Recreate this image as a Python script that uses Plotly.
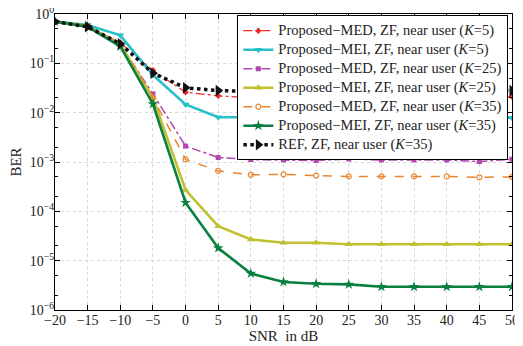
import plotly.graph_objects as go

snr = [-20, -15, -10, -5, 0, 5, 10, 15, 20, 25, 30, 35, 40, 45, 50]

med_k5 = [0.70, 0.58, 0.26, 0.072, 0.026, 0.022, 0.020, 0.020, 0.020, 0.020, 0.020, 0.020, 0.020, 0.020, 0.021]
mei_k5 = [0.70, 0.60, 0.37, 0.058, 0.0147, 0.0081, 0.0081, 0.0080, 0.0080, 0.0080, 0.0080, 0.0080, 0.0080, 0.0080, 0.0079]
med_k25 = [0.70, 0.57, 0.24, 0.024, 2.1e-3, 1.23e-3, 1.12e-3, 1.1e-3, 1.07e-3, 1.15e-3, 1.1e-3, 1.1e-3, 1.1e-3, 1.02e-3, 1.14e-3]
mei_k25 = [0.70, 0.57, 0.24, 0.020, 2.7e-4, 5.0e-5, 2.7e-5, 2.3e-5, 2.3e-5, 2.15e-5, 2.15e-5, 2.15e-5, 2.15e-5, 2.15e-5, 2.15e-5]
med_k35 = [0.70, 0.57, 0.24, 0.020, 1.13e-3, 6.6e-4, 5.5e-4, 5.6e-4, 5.3e-4, 5.1e-4, 5.1e-4, 5.1e-4, 5.1e-4, 4.9e-4, 5.0e-4]
mei_k35 = [0.70, 0.55, 0.22, 0.015, 1.5e-4, 1.8e-5, 5.5e-6, 3.7e-6, 3.4e-6, 3.3e-6, 2.95e-6, 2.95e-6, 2.95e-6, 2.95e-6, 2.95e-6]
ref_k35 = [0.70, 0.55, 0.25, 0.063, 0.032, 0.028, 0.027, 0.027, 0.027, 0.027, 0.027, 0.027, 0.027, 0.027, 0.028]

names = [
    "Proposed\u2212MED, ZF, near user (<i>K</i>=5)",
    "Proposed\u2212MEI, ZF, near user (<i>K</i>=5)",
    "Proposed\u2212MED, ZF, near user (<i>K</i>=25)",
    "Proposed\u2212MEI, ZF, near user (<i>K</i>=25)",
    "Proposed\u2212MED, ZF, near user (<i>K</i>=35)",
    "Proposed\u2212MEI, ZF, near user (<i>K</i>=35)",
    "REF, ZF, near user (<i>K</i>=35)",
]

yt_vals = [1, 0.1, 0.01, 1e-3, 1e-4, 1e-5, 1e-6]
yt_text = ["10<sup>0</sup>", "10<sup>\u22121</sup>", "10<sup>\u22122</sup>", "10<sup>\u22123</sup>",
           "10<sup>\u22124</sup>", "10<sup>\u22125</sup>", "10<sup>\u22126</sup>"]
xt_vals = [-20, -15, -10, -5, 0, 5, 10, 15, 20, 25, 30, 35, 40, 45, 50]
xt_text = ["\u221220", "\u221215", "\u221210", "\u22125", "0", "5", "10", "15", "20", "25", "30", "35", "40", "45", "50"]

styles = [
    (med_k5, "#f02828", 1.2, "dashdot", "diamond", 5),
    (mei_k5, "#28c0c8", 2.6, "solid", "triangle-down", 7),
    (med_k25, "#b048b0", 1.5, "dashdot", "square", 5),
    (mei_k25, "#c0c030", 2.6, "solid", "triangle-up", 7),
    (med_k35, "#e88530", 1.5, "dash", "circle-open", 5),
    (mei_k35, "#0a8040", 2.6, "solid", "star", 8),
    (ref_k35, "#111111", 3.5, "dot", "triangle-right", 10),
]

fig = go.Figure()
for (vals, color, w, dash, sym, size), nm in zip(styles, names):
    fig.add_trace(go.Scatter(
        x=snr, y=vals, name='<span style="font-size:14.5px">' + nm + '</span>',
        mode="lines+markers",
        line=dict(color=color, width=w, dash=dash),
        marker=dict(symbol=sym, size=size, color=color,
                    line=dict(color=color, width=1.2 if "open" in sym else 0)),
    ))

axis_common = dict(
    showline=True, linecolor="black", linewidth=1, mirror="ticks",
    ticks="inside", ticklen=5, tickcolor="black",
    showgrid=True, gridcolor="#d8d8d8", griddash="dot", gridwidth=1,
    zeroline=False, automargin=False, ticklabeloverflow="allow",
    tickfont=dict(family="Liberation Serif", size=14, color="#222"),
)

fig.update_xaxes(
    range=[-20, 50], tickvals=xt_vals, ticktext=xt_text, ticklabelstandoff=-3,
    title=dict(text="SNR  in dB", font=dict(family="Liberation Serif", size=15, color="#222"), standoff=0),
    **axis_common,
)
fig.update_yaxes(
    type="log", range=[-6, 0], tickvals=yt_vals, ticktext=yt_text, ticklabelstandoff=-3,
    title=dict(text="BER", font=dict(family="Liberation Serif", size=15, color="#222"), standoff=4),
    minor=dict(ticks="inside", ticklen=3, tickcolor="black", showgrid=False),
    **axis_common,
)

fig.update_layout(
    width=515, height=338,
    margin=dict(l=47, r=11, t=6, b=36, autoexpand=False),
    plot_bgcolor="white", paper_bgcolor="white",
    font=dict(family="Liberation Serif", color="#222"),
    showlegend=True,
    legend=dict(
        x=0.992, y=0.996, xanchor="right", yanchor="top",
        bgcolor="white", bordercolor="black", borderwidth=1,
        font=dict(family="Liberation Serif", size=12, color="#222"),
        tracegroupgap=0, itemwidth=30,
    ),
)

fig.write_html("out.html")
